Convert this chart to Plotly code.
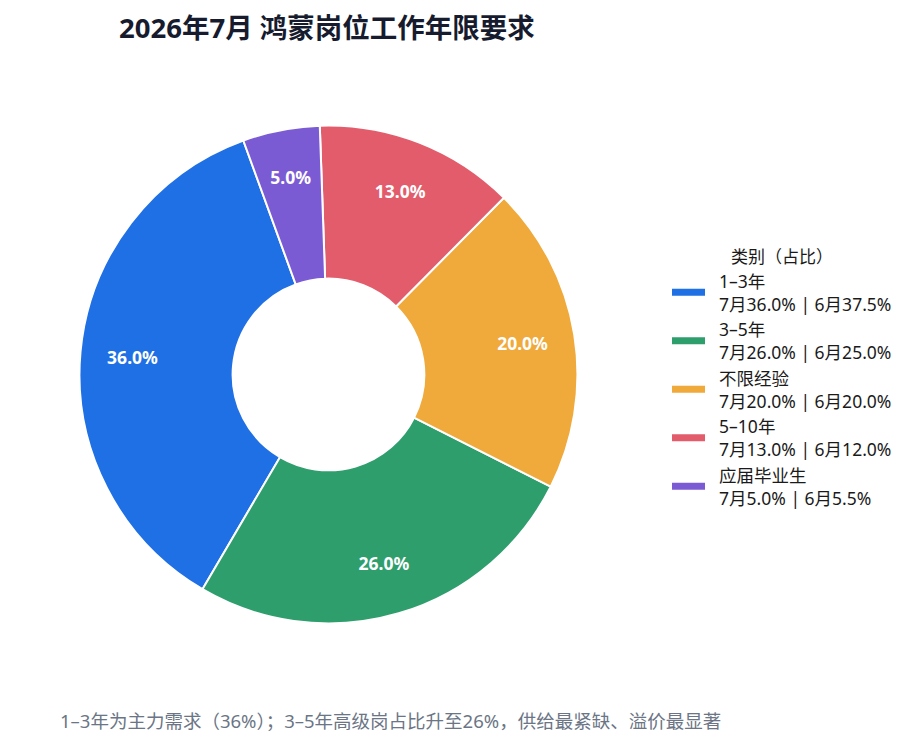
import plotly.graph_objects as go

categories = ["1–3年", "3–5年", "不限经验", "5–10年", "应届毕业生"]
share_jul = [36.0, 26.0, 20.0, 13.0, 5.0]
share_jun = [37.5, 25.0, 20.0, 12.0, 5.5]
colors = ["#1f6fe5", "#2e9e6d", "#f0a93b", "#e25c6b", "#7b5bd4"]

FONT = "Noto Sans, Noto Sans CJK SC, sans-serif"
DOMAIN = dict(x=[0.0776, 0.6183], y=[0.1750, 0.8425])
# smaller circle, same centre: keeps the label of the thin slice nearer the middle
DOMAIN_SMALL = dict(x=[0.0993, 0.5966], y=[0.2054, 0.8194])

PAD = "\u00a0\u00a0"  # a little room between colour bar and text
legend_labels = [
    f"{PAD}{c}<br>{PAD}7月{a:.1f}% | 6月{b:.1f}%"
    for c, a, b in zip(categories, share_jul, share_jun)
]
PCT = "%{percent:.1%}"
small = [v < 8 for v in share_jul]

fig = go.Figure()
# the donut itself
fig.add_trace(
    go.Pie(
        labels=categories,
        values=share_jul,
        hole=0.385,
        sort=False,
        direction="counterclockwise",
        rotation=210.4,
        marker=dict(colors=colors, line=dict(color="white", width=2)),
        textinfo="none",
        domain=DOMAIN,
        showlegend=False,
    )
)
# transparent copies, thinner ring, only to put the % labels further out
for dom, pick in ((DOMAIN, [not s for s in small]), (DOMAIN_SMALL, small)):
    fig.add_trace(
        go.Pie(
            labels=categories,
            values=share_jul,
            hole=0.58,
            sort=False,
            direction="counterclockwise",
            rotation=210.4,
            marker=dict(colors=["rgba(0,0,0,0)"] * len(categories),
                        line=dict(width=0)),
            texttemplate=[PCT if p else "" for p in pick],
            textposition="inside",
            insidetextorientation="horizontal",
            textfont=dict(color="white", size=17.5, family=FONT, weight="bold"),
            hoverinfo="skip",
            domain=dom,
            showlegend=False,
        )
    )

# legend entries drawn as wide colour bars
for lab, c in zip(legend_labels, colors):
    fig.add_trace(
        go.Scatter(
            x=[None], y=[None], mode="lines", name=lab,
            line=dict(color=c, width=7),
        )
    )

fig.update_layout(
    width=921,
    height=746,
    paper_bgcolor="white",
    plot_bgcolor="white",
    margin=dict(l=0, r=0, t=0, b=0),
    font=dict(family=FONT, color="#1a1a1a"),
    xaxis=dict(visible=False),
    yaxis=dict(visible=False),
    title=dict(
        text="<b>2026年7月 鸿蒙岗位工作年限要求</b>",
        x=111 / 921,
        xanchor="left",
        y=1 - 20 / 746,
        yanchor="middle",
        font=dict(size=27.5, color="#161b2e", family=FONT),
    ),
    legend=dict(
        title=dict(text="类别（占比）", font=dict(size=17), side="top center"),
        x=659 / 921,
        y=1 - 233 / 746,
        xanchor="left",
        yanchor="top",
        font=dict(size=17.5, color="#1a1a1a"),
        tracegroupgap=0,
        itemwidth=33,
        bgcolor="rgba(0,0,0,0)",
    ),
    annotations=[
        dict(
            text="1–3年为主力需求（36%）；3–5年高级岗占比升至26%，供给最紧缺、溢价最显著",
            xref="paper",
            yref="paper",
            x=50 / 921,
            y=1 - 712 / 746,
            xanchor="left",
            yanchor="middle",
            showarrow=False,
            font=dict(size=18.5, color="#6b7585", family=FONT),
        )
    ],
)

fig.write_html("out.html")
